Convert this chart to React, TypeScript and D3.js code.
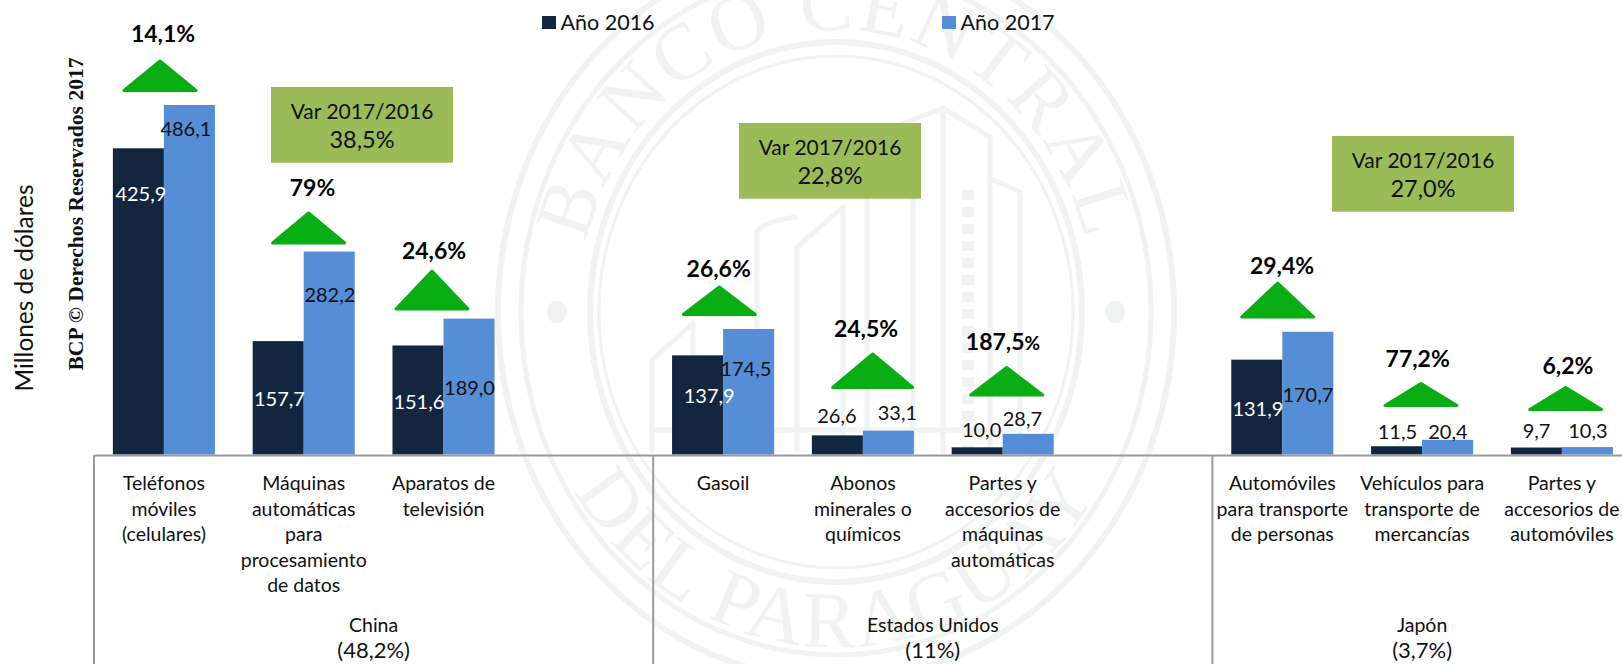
import { useRef, useEffect } from "react";
import * as d3 from "d3";

const WIDTH = 1622;
const HEIGHT = 664;

// blank slots in the categories keep the gap after each country
const categories = [
  ["Teléfonos", "móviles", "(celulares)"],
  ["Máquinas", "automáticas", "para", "procesamiento", "de datos"],
  ["Aparatos de", "televisión"],
  [],
  ["Gasoil"],
  ["Abonos", "minerales o", "químicos"],
  ["Partes y", "accesorios de", "máquinas", "automáticas"],
  [],
  ["Automóviles", "para transporte", "de personas"],
  ["Vehículos para", "transporte de", "mercancías"],
  ["Partes y", "accesorios de", "automóviles"],
];
const values2016 = [425.9, 157.7, 151.6, null, 137.9, 26.6, 10.0, null, 131.9, 11.5, 9.7];
const values2017 = [486.1, 282.2, 189.0, null, 174.5, 33.1, 28.7, null, 170.7, 20.4, 10.3];
const growth = ["14,1%", "79%", "24,6%", null, "26,6%", "24,5%", "187,5%", null, "29,4%", "77,2%", "6,2%"];
const countries = ["China", "Estados Unidos", "Japón"];
const countryShares = ["(48,2%)", "(11%)", "(3,7%)"];
const countryFirstSlot = [0, 4, 8];
const countrySlots = [4, 4, 3];
const variations = ["38,5%", "22,8%", "27,0%"];

const fmt = (v: number) => v.toFixed(1).replace(".", ",");

// hand placed things from the original (dx, dy from the top of the bar)
const nudge2016 = [[2.5, 52.7], [1.3, 64.9], [0.9, 63.5], null, [11.6, 47.4], [-0.5, -12.4], [4.4, -10.3], null, [1.1, 56.3], [0.8, -7.2], [0.2, -9.5]];
const nudge2017 = [[-3.5, 31], [0.7, 50], [0.5, 76.4], null, [-2.7, 47], [9, -10.7], [-5.8, -7.9], null, [0.1, 70.2], [0.3, -0.8], [0.5, -9.1]];
// arrow: centre x, top y, bottom y, half width
const arrows = [[160, 61, 90.5, 36], [308.6, 213, 243, 36], [432, 271, 309, 36], null, [719.3, 287, 314.5, 36], [872.7, 354, 387.5, 40], [1006.7, 367.5, 395, 36], null, [1277.7, 283, 317, 36], [1421, 383.5, 405.5, 36], [1565.7, 387.5, 409.5, 36]];
// growth label: centre x, baseline y
const growthPos = [[163, 41.7], [312.5, 196], [434, 259], null, [718.7, 276.7], [866, 337], [1003, 350], null, [1282, 274], [1417.7, 367.3], [1568, 374]];
const boxes = [[271, 87], [739, 123], [1332, 136]];

const DARK = "#132640";
const BLUE = "#558dd6";
const GREEN = "#09ae14";
const OLIVE = "#9bbb59";
const SEAL = "#f0f3f1";
const SANS = "Lato, 'Noto Sans', sans-serif";

const ellipsePath = (rx: number, ry: number, sweep: number) =>
  `M${836 - rx},312 A${rx},${ry} 0 0 ${sweep} ${836 + rx},312`;

function drawSeal(g: any) {
  const seal = g.append("g").attr("fill", "none").attr("stroke", SEAL);
  [[338, 368, 6], [315, 343, 5], [246, 270, 6], [237, 256, 3]].forEach(([rx, ry, w]) => {
    seal.append("ellipse").attr("cx", 836).attr("cy", 312).attr("rx", rx).attr("ry", ry).attr("stroke-width", w);
  });
  [[557, 312], [1115, 312]].forEach(([cx, cy]) => {
    g.append("ellipse").attr("cx", cx).attr("cy", cy).attr("rx", 10).attr("ry", 11).attr("fill", SEAL);
  });

  const defs = g.append("defs");
  defs.append("path").attr("id", "sealTop").attr("d", ellipsePath(258, 282, 1));
  defs.append("path").attr("id", "sealBottom").attr("d", ellipsePath(310, 335, 0));
  [["sealTop", "BANCO CENTRAL", 3], ["sealBottom", "DEL PARAGUAY", 3]].forEach(([id, label, sp]) => {
    g.append("text")
      .attr("font-family", "'Liberation Serif', serif")
      .attr("font-size", 80)
      .attr("letter-spacing", sp)
      .attr("fill", SEAL)
      .attr("text-anchor", "middle")
      .append("textPath")
      .attr("href", `#${id}`)
      .attr("startOffset", "50%")
      .text(label);
  });

  // the building in the middle of the seal
  const building = [
    "M652,453 V360 L693,323 V453",
    "M757,453 V232 Q760,222 797,217 M797,453 V247 L843,207 V453",
    "M867,453 V190 M913,453 V150 M943,453 V108 L990,137 V453",
    "M897,126 L943,108 M987,177 L1020,192 V453",
    "M652,430 H1020",
  ];
  building.forEach((d) => {
    seal.append("path").attr("d", d).attr("stroke-width", 5).attr("stroke-linejoin", "round");
  });
  seal.append("path").attr("d", "M968,190 V453").attr("stroke-width", 12).attr("stroke-dasharray", "10 7");
}

export default function App() {
  const container = useRef<SVGSVGElement>(null);

  useEffect(() => {
    const svg = d3.select(container.current);
    svg.selectAll("*").remove();
    const slots = categories.map((_, i) => String(i));

    // Scales
    const x = d3.scaleBand().domain(slots).range([94, 1631.8]).paddingInner(0.27).paddingOuter(0.135);
    const inner = d3.scaleBand().domain(["2016", "2017"]).range([0, x.bandwidth()]);
    const y = d3.scaleLinear().domain([0, 500]).range([454.5, 95]);
    const slotLeft = (i: number) => x(String(i))! - (x.step() - x.bandwidth()) / 2;

    drawSeal(svg.append("g"));

    // Bars
    const series = [
      { key: "2016", values: values2016, color: DARK },
      { key: "2017", values: values2017, color: BLUE },
    ];
    series.forEach((s) => {
      svg.append("g")
        .selectAll("rect")
        .data(s.values.map((v, i) => ({ v, i })).filter((d) => d.v !== null))
        .enter()
        .append("rect")
        .attr("x", (d) => x(String(d.i))! + inner(s.key)!)
        .attr("y", (d) => y(d.v!))
        .attr("width", inner.bandwidth())
        .attr("height", (d) => y(0) - y(d.v!))
        .attr("fill", s.color);
    });

    // Category axis
    const axis = svg.append("g")
      .attr("transform", "translate(0,455)")
      .call(d3.axisBottom(x).tickSize(0).tickFormat(() => ""));
    axis.select(".domain").attr("stroke", "#9a9a9a").attr("stroke-width", 2);
    axis.selectAll(".tick text")
      .attr("y", 35)
      .attr("dy", 0)
      .attr("font-family", SANS)
      .attr("font-size", 19.5)
      .attr("fill", "#111")
      .each(function (d: any) {
        d3.select(this)
          .selectAll("tspan")
          .data(categories[+d])
          .enter()
          .append("tspan")
          .attr("x", 0)
          .attr("dy", (_, i) => (i === 0 ? 0 : 25.5))
          .text((t) => t);
      });

    // Countries
    const country = svg.append("g").attr("font-family", SANS).attr("font-size", 19.5).attr("fill", "#111");
    countries.forEach((c, i) => {
      const left = slotLeft(countryFirstSlot[i]);
      const mid = left + (countrySlots[i] * x.step()) / 2;
      svg.append("line")
        .attr("x1", left).attr("x2", left)
        .attr("y1", 455).attr("y2", HEIGHT)
        .attr("stroke", "#9a9a9a").attr("stroke-width", 2);
      country.append("text").attr("x", mid).attr("y", 632).attr("text-anchor", "middle").text(c);
      country.append("text").attr("x", mid).attr("y", 658).attr("text-anchor", "middle").attr("font-size", 22).text(countryShares[i]);
    });

    // Value labels
    series.forEach((s) => {
      const nudge = s.key === "2016" ? nudge2016 : nudge2017;
      s.values.forEach((v, i) => {
        if (v === null) return;
        const [dx, dy] = nudge[i]!;
        svg.append("text")
          .attr("x", x(String(i))! + inner(s.key)! + inner.bandwidth() / 2 + dx)
          .attr("y", y(v) + dy)
          .attr("text-anchor", "middle")
          .attr("font-family", SANS)
          .attr("font-size", 20)
          .attr("fill", s.key === "2016" && dy > 0 ? "#fff" : "#111")
          .text(fmt(v));
      });
    });

    // Growth arrows
    const arrowLine = d3.line();
    arrows.forEach((a, i) => {
      if (!a) return;
      const [cx, top, bottom, half] = a;
      svg.append("path")
        .attr("d", arrowLine([[cx - half, bottom], [cx, top], [cx + half, bottom]]) + "Z")
        .attr("fill", GREEN)
        .attr("stroke", GREEN)
        .attr("stroke-width", 3)
        .attr("stroke-linejoin", "round");
      const [lx, ly] = growthPos[i]!;
      const t = svg.append("text")
        .attr("x", lx).attr("y", ly)
        .attr("text-anchor", "middle")
        .attr("font-family", SANS)
        .attr("font-weight", 700)
        .attr("font-size", 23)
        .attr("fill", "#000");
      const label = growth[i]!;
      if (label.length > 5) {
        t.append("tspan").text(label.slice(0, -1));
        t.append("tspan").attr("font-size", 19).text("%");
      } else {
        t.text(label);
      }
    });

    // Var boxes
    boxes.forEach(([bx, by], i) => {
      svg.append("rect").attr("x", bx).attr("y", by).attr("width", 182).attr("height", 75.7).attr("fill", OLIVE);
      const t = svg.append("g")
        .attr("text-anchor", "middle")
        .attr("font-family", SANS)
        .attr("font-size", 21)
        .attr("fill", "#111");
      t.append("text").attr("x", bx + 91).attr("y", by + 32).text("Var 2017/2016");
      t.append("text").attr("x", bx + 91).attr("y", by + 61).attr("font-size", 23.5).text(variations[i]);
    });

    // Legend
    [["Año 2016", DARK, 542], ["Año 2017", BLUE, 942]].forEach(([label, color, lx]: any) => {
      svg.append("rect").attr("x", lx).attr("y", 16).attr("width", 14).attr("height", 13).attr("fill", color);
      svg.append("text")
        .attr("x", lx + 18.5).attr("y", 30)
        .attr("font-family", SANS).attr("font-size", 21.5).attr("fill", "#111")
        .text(label);
    });

    // Rotated titles
    svg.append("text")
      .attr("transform", "translate(33,288) rotate(-90)")
      .attr("text-anchor", "middle")
      .attr("font-family", SANS)
      .attr("font-size", 24.4)
      .attr("fill", "#111")
      .text("Millones de dólares");
    svg.append("text")
      .attr("transform", "translate(83,214) rotate(-90)")
      .attr("text-anchor", "middle")
      .attr("font-family", "'Liberation Serif', serif")
      .attr("font-weight", 700)
      .attr("font-size", 21.6)
      .attr("fill", "#111")
      .text("BCP © Derechos Reservados 2017");
  }, []);

  return (
    <svg
      ref={container}
      width={WIDTH}
      height={HEIGHT}
      style={{ position: "absolute", left: 0, top: 0, background: "#fff" }}
    />
  );
}
